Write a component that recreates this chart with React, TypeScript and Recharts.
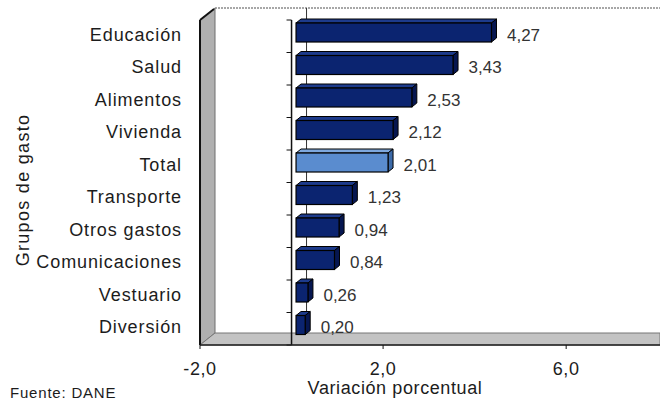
import React from "react";
import {
  BarChart,
  Bar,
  XAxis,
  YAxis,
  ReferenceArea,
  ReferenceLine,
  LabelList,
} from "recharts";

const categories = [
  "Educación",
  "Salud",
  "Alimentos",
  "Vivienda",
  "Total",
  "Transporte",
  "Otros gastos",
  "Comunicaciones",
  "Vestuario",
  "Diversión",
];
const values = [4.27, 3.43, 2.53, 2.12, 2.01, 1.23, 0.94, 0.84, 0.26, 0.2];
const xTicks = [-2, 2, 6];
const xDomain: [number, number] = [-2, 8.05];

const data = categories.map((name, i) => ({ name, value: values[i] }));

const FONT = '"Liberation Sans", Arial, sans-serif';
const TEXT = "#1c1c1c";
// 3D depth of the walls (back plane offset)
const DX = 15;
const DY = -12;

const fmt = (v: number, d: number) => v.toFixed(d).replace(".", ",");

const DARK = { front: "#0b2470", top: "#1d3b8c", side: "#061650" };
const LIGHT = { front: "#5a8ccf", top: "#7ea8de", side: "#3c6aa8" };

function Backdrop(props: any) {
  const { x, y, width, height } = props;
  const b = y + height;
  return (
    <g>
      <rect x={x + DX} y={y + DY} width={width - DX} height={height} fill="#fff" />
      <line x1={x + DX} y1={y + DY} x2={x + width} y2={y + DY} stroke="#8a8a8a" strokeWidth={1.5} strokeDasharray="2 1" />
      <polygon
        points={`${x},${y} ${x + DX},${y + DY} ${x + DX},${b + DY} ${x},${b}`}
        fill="#b0b0b0"
        stroke="#6e6e6e"
        strokeWidth={1}
      />
      <polygon
        points={`${x},${b} ${x + DX},${b + DY} ${x + width},${b + DY} ${x + width},${b}`}
        fill="#c3c3c3"
        stroke="#777"
        strokeWidth={1}
      />
      <line x1={x} y1={y} x2={x + DX - 1} y2={y + DY + 1} stroke="#111" strokeWidth={2} />
      <line x1={x} y1={y} x2={x} y2={b} stroke="#111" strokeWidth={2} />
    </g>
  );
}

// back-plane zero line, drawn at right edge of an area from -2 to 0
function BackZero(props: any) {
  const { x, y, width, height } = props;
  const zx = x + width + DX;
  return <line x1={zx} y1={y + DY} x2={zx} y2={y + height + DY} stroke="#333" strokeWidth={1} />;
}

function FrontZero(props: any) {
  const { x1, y1, y2 } = props;
  const n = categories.length;
  const step = (y2 - y1) / n;
  const ticks = [];
  for (let i = 0; i <= n; i++) {
    const ty = y1 + i * step;
    ticks.push(<line key={i} x1={x1 - 5} y1={ty} x2={x1} y2={ty} stroke="#111" strokeWidth={1} />);
  }
  return (
    <g>
      <line x1={x1} y1={y1} x2={x1} y2={y2} stroke="#111" strokeWidth={1.5} />
      {ticks}
    </g>
  );
}

function Bar3D(props: any) {
  const { x, y, width, height, payload } = props;
  if (width == null || height == null) return null;
  const c = payload && payload.name === "Total" ? LIGHT : DARK;
  const sx = x + 4.5;
  const sy = y - 4;
  const dx = 5;
  const dy = -4;
  const w = width;
  const h = height;
  return (
    <g>
      <polygon
        points={`${sx},${sy} ${sx + dx},${sy + dy} ${sx + w + dx},${sy + dy} ${sx + w},${sy}`}
        fill={c.top}
        stroke="#000"
        strokeWidth={1}
      />
      <polygon
        points={`${sx + w},${sy} ${sx + w + dx},${sy + dy} ${sx + w + dx},${sy + h + dy} ${sx + w},${sy + h}`}
        fill={c.side}
        stroke="#000"
        strokeWidth={1}
      />
      <rect x={sx} y={sy} width={w} height={h} fill={c.front} stroke="#000" strokeWidth={1.2} />
    </g>
  );
}

function ValueLabel(props: any) {
  const { x, y, width, height, value } = props;
  return (
    <text
      x={x + width + 20}
      y={y + height / 2 - 2}
      dy="0.36em"
      fill="#333"
      fontSize={17}
      fontFamily={FONT}
      textAnchor="start"
    >
      {fmt(Number(value), 2)}
    </text>
  );
}

export default function App() {
  return (
    <div style={{ position: "absolute", left: 0, top: 0, width: 660, height: 400, background: "#fff", overflow: "hidden" }}>
      <BarChart
        width={660}
        height={400}
        data={data}
        layout="vertical"
        margin={{ top: 20, right: 0, bottom: 25, left: 0 }}
        barSize={19}
      >
        <XAxis
          type="number"
          domain={xDomain}
          ticks={xTicks}
          allowDataOverflow
          tickFormatter={(v: number) => fmt(v, 1)}
          tick={{ fill: TEXT, fontSize: 18, fontFamily: FONT, letterSpacing: 0.6 }}
          tickSize={4}
          tickMargin={13}
          tickLine={{ stroke: "#111" }}
          axisLine={{ stroke: "#222", strokeWidth: 1.5 }}
          height={30}
        />
        <YAxis
          type="category"
          dataKey="name"
          width={200}
          tickSize={0}
          tickMargin={18}
          axisLine={false}
          tickLine={false}
          interval={0}
          tick={{ fill: TEXT, fontSize: 18, fontFamily: FONT, letterSpacing: 0.9, dy: -2 }}
        />
        <ReferenceArea x1={xDomain[0]} x2={xDomain[1]} shape={Backdrop} fillOpacity={1} ifOverflow="visible" />
        <ReferenceArea x1={xDomain[0]} x2={0} shape={BackZero} ifOverflow="visible" />
        <Bar dataKey="value" isAnimationActive={false} shape={Bar3D}>
          <LabelList dataKey="value" content={ValueLabel} />
        </Bar>
        <ReferenceLine x={0} shape={FrontZero} ifOverflow="visible" />
      </BarChart>
      <svg
        width={660}
        height={400}
        style={{ position: "absolute", left: 0, top: 0, pointerEvents: "none" }}
        fontFamily={FONT}
        fill={TEXT}
      >
        <text x={395} y={394} fontSize={18} textAnchor="middle" letterSpacing={0.6}>
          Variación porcentual
        </text>
        <text
          x={29}
          y={190}
          fontSize={18}
          textAnchor="middle"
          letterSpacing={1.3}
          transform="rotate(-90 29 190)"
        >
          Grupos de gasto
        </text>
        <text x={10} y={398} fontSize={15} letterSpacing={0.8}>
          Fuente: DANE
        </text>
      </svg>
    </div>
  );
}
